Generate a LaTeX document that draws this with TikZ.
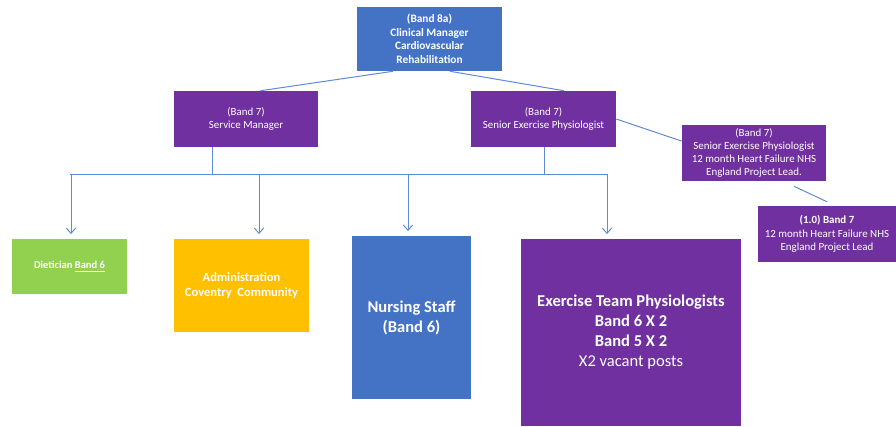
\documentclass[tikz,border=0pt]{standalone}
\usepackage{fontspec}
\setmainfont{Carlito}
\usetikzlibrary{arrows.meta,calc}
\definecolor{bandblue}{RGB}{68,114,196}
\definecolor{bandpurple}{RGB}{112,48,160}
\definecolor{bandgreen}{RGB}{146,208,80}
\definecolor{bandorange}{RGB}{255,192,0}
\definecolor{linkblue}{RGB}{96,138,212}

\begin{document}
\begin{tikzpicture}[x=0.75pt,y=-0.75pt]
	\tikzset{
	  BoxStyle/.style = { rectangle, text = white, align = center,
	                      inner sep = 1pt },
	  SmallText/.style = { font = \fontsize{8.2}{9.9}\selectfont },
	  LinkStyle/.style = { draw = linkblue, line width = 0.75pt },
	  DropStyle/.style = { LinkStyle,
	                       -{Straight Barb[length=4pt,width=7pt]},
	                       shorten > = 3.5pt } }
	\useasboundingbox (0,0) rectangle (896,426);
	\node[BoxStyle, fill=bandblue, minimum width=108.75pt, minimum height=48pt,
	      font=\fontsize{8.5}{10.2}\selectfont\bfseries] (clin) at (429.5,39)
	      {(Band 8a)\\Clinical Manager\\Cardiovascular\\Rehabilitation};
	\node[BoxStyle, SmallText, fill=bandpurple, minimum width=108pt,
	      minimum height=42pt] (svcmgr) at (246,119)
	      {(Band 7)\\Service Manager};
	\node[BoxStyle, SmallText, fill=bandpurple, minimum width=108.75pt,
	      minimum height=42pt] (senior) at (543.5,119)
	      {(Band 7)\\Senior Exercise Physiologist};
	\node[BoxStyle, SmallText, fill=bandpurple, minimum width=108pt,
	      minimum height=42pt] (hflead) at (754,153)
	      {(Band 7)\\Senior Exercise Physiologist\\12 month Heart Failure NHS\\England Project Lead.};
	\node[BoxStyle, SmallText, fill=bandpurple, minimum width=103.5pt,
	      minimum height=42pt] (projlead) at (827,234)
	      {\textbf{(1.0) Band 7}\\12 month Heart Failure NHS\\England Project Lead};
	\node[BoxStyle, fill=bandgreen, minimum width=86.25pt,
	      minimum height=41.25pt, font=\fontsize{7.9}{9.6}\selectfont\bfseries]
	      (diet) at (69.5,266.5) {Dietician \underline{Band 6}};
	\node[BoxStyle, fill=bandorange, minimum width=101.25pt,
	      minimum height=69.75pt, font=\fontsize{9.4}{11.3}\selectfont\bfseries]
	      (admin) at (241.5,285.5) {Administration\\Coventry\ \ Community};
	\node[BoxStyle, fill=bandblue, minimum width=89.25pt,
	      minimum height=122.25pt, font=\fontsize{12.4}{15}\selectfont\bfseries]
	      (nursing) at (411.5,317.5) {Nursing Staff\\(Band 6)};
	\node[BoxStyle, fill=bandpurple, minimum width=165pt,
	      minimum height=140.25pt, font=\fontsize{12.4}{15}\selectfont\bfseries]
	      (exercise) at (631,332.5)
	      {Exercise Team Physiologists\\Band 6 X 2\\Band 5 X 2\\{\mdseries X2 vacant posts}};
	\coordinate (busL) at (70,174);
	\coordinate (busR) at (607,174);
	\coordinate (b1) at (212,174);
	\coordinate (b2) at (544,174);
	\coordinate (d1) at (71,174);
	\coordinate (d2) at (259,174);
	\coordinate (d3) at (408,174);
	\draw[LinkStyle] ($(clin.south west)!0.25!(clin.south east)$)
	      -- ($(svcmgr.north west)!0.6!(svcmgr.north east)$);
	\draw[LinkStyle] ($(clin.south west)!0.64!(clin.south east)$)
	      -- ($(senior.north west)!0.64!(senior.north east)$);
	\draw[LinkStyle] (senior.east) -- ($(hflead.north west)!0.29!(hflead.south west)$);
	\draw[LinkStyle] ($(hflead.south)+(40,5)$) -- ($(projlead.north)+(0,-4)$);
	\draw[LinkStyle] (b1 |- svcmgr.south) -- (b1);
	\draw[LinkStyle] (b2 |- senior.south) -- (b2);
	\draw[LinkStyle] (busL) -- (busR);
	\draw[DropStyle] (d1) -- (d1 |- diet.north);
	\draw[DropStyle] (d2) -- (d2 |- admin.north);
	\draw[DropStyle] (d3) -- (d3 |- nursing.north);
	\draw[DropStyle] (busR) -- (busR |- exercise.north);
\end{tikzpicture}
\end{document}
